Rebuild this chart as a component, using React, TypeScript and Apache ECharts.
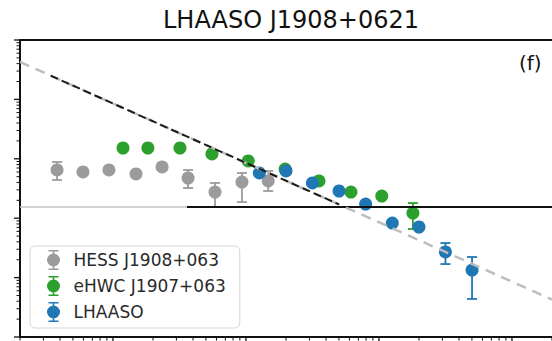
import React, { useEffect, useRef } from "react";
import * as echarts from "echarts";

// Axis ranges: energy (TeV) and E^2 dN/dE
const X_MIN = 0.2;
const X_MAX = 2000;
const Y_MIN = 1e-14;
const Y_MAX = 1e-9;

// H.E.S.S. spectral points
const hessE = [0.38, 0.595, 0.933, 1.49, 2.34, 3.67, 5.85, 9.33, 14.7];
const hessF = [6.48e-12, 6.0e-12, 6.48e-12, 5.55e-12, 7.28e-12, 4.75e-12, 2.76e-12, 4.06e-12, 4.23e-12];
const hessLo = [4.4e-12, 5.7e-12, 6.15e-12, 5.27e-12, 6.92e-12, 3.22e-12, 1.55e-12, 1.87e-12, 2.87e-12];
const hessHi = [8.83e-12, 6.3e-12, 6.8e-12, 5.83e-12, 7.64e-12, 6.48e-12, 3.92e-12, 5.77e-12, 6.24e-12];

// eHWC spectral points
const hawcE = [1.19, 1.83, 3.19, 5.55, 10.4, 19.7, 35.4, 61.6, 105, 180];
const hawcF = [1.52e-11, 1.52e-11, 1.52e-11, 1.21e-11, 9.19e-12, 6.73e-12, 4.23e-12, 2.76e-12, 2.36e-12, 1.22e-12];
const hawcLo = [1.4e-11, 1.4e-11, 1.4e-11, 1.11e-11, 8.4e-12, 6.1e-12, 3.85e-12, 2.5e-12, 2.1e-12, 6.58e-13];
const hawcHi = [1.64e-11, 1.64e-11, 1.64e-11, 1.31e-11, 1.0e-11, 7.4e-12, 4.65e-12, 3.05e-12, 2.65e-12, 1.8e-12];

// LHAASO spectral points
const lhaasoE = [12.6, 20.0, 31.6, 50.1, 79.4, 126, 200, 316, 501];
const lhaasoF = [5.77e-12, 6.24e-12, 3.92e-12, 2.87e-12, 1.73e-12, 8.3e-13, 7.11e-13, 2.7e-13, 1.34e-13];
const lhaasoLo = [5.45e-12, 5.9e-12, 3.7e-12, 2.7e-12, 1.62e-12, 7.8e-13, 6.4e-13, 1.69e-13, 4.37e-14];
const lhaasoHi = [6.1e-12, 6.6e-12, 4.15e-12, 3.05e-12, 1.85e-12, 8.8e-13, 7.9e-13, 3.82e-13, 2.22e-13];

// Power-law model (full range, grey) and its fitted segment (black)
const fitE = [0.2, 2000];
const fitF = [4.27e-10, 4.27e-14];
const fitSegE = [0.34, 50];
const fitSegF = [2.51e-10, 1.71e-12];

// Horizontal reference level
const refE = [0.2, 2000];
const refSegE = [3.6, 2000];
const refF = 1.55e-12;

const FONT = "DejaVu Sans";
const GRAY = "#9b9b9b";
const GREEN = "#2ca02c";
const BLUE = "#1f77b4";

// Legend glyph: marker with an error bar
const ERR_ICON =
  "path://M2 0H12V1.6H2Z M6.2 0H7.8V20H6.2Z M2 18.4H12V20H2Z M13.5 10A6.5 6.5 0 1 1 0.5 10A6.5 6.5 0 1 1 13.5 10Z";

function logTicks(min: number, max: number) {
  const out: number[][] = [];
  for (let k = -15; k <= 4; k++) {
    for (let m = 1; m <= 9; m++) {
      const v = m * Math.pow(10, k);
      if (v >= min * 0.999 && v <= max * 1.001) out.push([v, m === 1 ? 1 : 0]);
    }
  }
  return out;
}

function errorBars(name: string, color: string, xs: number[], lo: number[], hi: number[]) {
  return {
    type: "custom",
    name,
    silent: true,
    clip: false,
    itemStyle: { color },
    encode: { x: 0, y: [1, 2] },
    data: xs.map((e, i) => [e, lo[i], hi[i]]),
    renderItem: (_p: any, api: any) => {
      const x = api.value(0);
      const top = api.coord([x, api.value(2)]);
      const bot = api.coord([x, api.value(1)]);
      const hw = 5;
      const style = { stroke: color, lineWidth: 1.8, fill: "none" };
      return {
        type: "group",
        children: [
          { type: "line", shape: { x1: top[0], y1: top[1], x2: bot[0], y2: bot[1] }, style },
          { type: "line", shape: { x1: top[0] - hw, y1: top[1], x2: top[0] + hw, y2: top[1] }, style },
          { type: "line", shape: { x1: bot[0] - hw, y1: bot[1], x2: bot[0] + hw, y2: bot[1] }, style },
        ],
      };
    },
  };
}

function markers(name: string, color: string, xs: number[], ys: number[]) {
  return {
    type: "scatter",
    name,
    symbol: "circle",
    symbolSize: 13,
    itemStyle: { color, opacity: 1 },
    emphasis: { disabled: true },
    data: xs.map((e, i) => [e, ys[i]]),
  };
}

function straight(xs: number[], ys: number[], color: string, width: number, dash: any) {
  return {
    type: "line",
    silent: true,
    symbol: "none",
    lineStyle: { color, width, type: dash },
    emphasis: { disabled: true },
    data: xs.map((e, i) => [e, ys[i]]),
  };
}

export default function App() {
  const ref = useRef<HTMLDivElement>(null);

  useEffect(() => {
    document.body.style.margin = "0";
    const chart = echarts.init(ref.current!, null, { renderer: "svg" });

    const xTicks = logTicks(X_MIN, X_MAX).map(([v, major]) => [v, Y_MIN, major]);
    const yTicks = logTicks(Y_MIN, Y_MAX).map(([v, major]) => [X_MIN, v, major]);

    chart.setOption({
      animation: false,
      title: [
        {
          text: "LHAASO J1908+0621",
          left: 291,
          top: 8,
          padding: 0,
          textAlign: "center",
          textStyle: { fontFamily: FONT, fontSize: 24, fontWeight: "normal", color: "#111" },
        },
        {
          text: "(f)",
          left: 519,
          top: 53,
          padding: 0,
          textStyle: { fontFamily: FONT, fontSize: 20, fontWeight: "normal", color: "#111" },
        },
      ],
      grid: { left: 20, top: 40, right: 0, bottom: 4 },
      legend: {
        orient: "vertical",
        left: 30,
        top: 246,
        padding: [4, 14, 6, 17],
        itemWidth: 30,
        itemHeight: 20,
        itemGap: 6,
        backgroundColor: "rgba(255,255,255,0.85)",
        borderColor: "#d6d6d6",
        borderWidth: 1,
        borderRadius: 5,
        textStyle: { fontFamily: FONT, fontSize: 17, color: "#2a2a2a" },
        data: [
          { name: "HESS J1908+063", icon: ERR_ICON },
          { name: "eHWC J1907+063", icon: ERR_ICON },
          { name: "LHAASO", icon: ERR_ICON },
        ],
      },
      xAxis: [
        {
          type: "log",
          logBase: 10,
          min: X_MIN,
          max: X_MAX,
          position: "bottom",
          axisLine: { show: true, lineStyle: { color: "#111", width: 2 } },
          axisTick: { show: false },
          axisLabel: { show: false },
          splitLine: { show: false },
        },
        {
          type: "log",
          logBase: 10,
          min: X_MIN,
          max: X_MAX,
          position: "top",
          axisLine: { show: true, lineStyle: { color: "#111", width: 2 } },
          axisTick: { show: false },
          axisLabel: { show: false },
          splitLine: { show: false },
        },
      ],
      yAxis: {
        type: "log",
        logBase: 10,
        min: Y_MIN,
        max: Y_MAX,
        axisLine: { show: true, lineStyle: { color: "#111", width: 2 } },
        axisTick: { show: false },
        axisLabel: { show: false },
        splitLine: { show: false },
      },
      series: [
        straight(refE, [refF, refF], "#c4c4c4", 1.5, "solid"),
        straight(refSegE, [refF, refF], "#111", 2, "solid"),
        straight(fitE, fitF, "#bdbdbd", 2.5, [10, 7]),
        straight(fitSegE, fitSegF, "#1a1a1a", 2, [8, 4]),
        errorBars("HESS J1908+063", GRAY, hessE, hessLo, hessHi),
        markers("HESS J1908+063", GRAY, hessE, hessF),
        errorBars("eHWC J1907+063", GREEN, hawcE, hawcLo, hawcHi),
        markers("eHWC J1907+063", GREEN, hawcE, hawcF),
        errorBars("LHAASO", BLUE, lhaasoE, lhaasoLo, lhaasoHi),
        markers("LHAASO", BLUE, lhaasoE, lhaasoF),
        {
          type: "custom",
          silent: true,
          clip: false,
          encode: { x: 0, y: 1 },
          data: xTicks,
          renderItem: (_p: any, api: any) => {
            const p = api.coord([api.value(0), api.value(1)]);
            const len = api.value(2) ? 6 : 3.5;
            return {
              type: "line",
              shape: { x1: p[0], y1: p[1], x2: p[0], y2: p[1] + len },
              style: { stroke: "#111", lineWidth: api.value(2) ? 1.3 : 1 },
            };
          },
        },
        {
          type: "custom",
          silent: true,
          clip: false,
          encode: { x: 0, y: 1 },
          data: yTicks,
          renderItem: (_p: any, api: any) => {
            const p = api.coord([api.value(0), api.value(1)]);
            const len = api.value(2) ? 6 : 3.5;
            return {
              type: "line",
              shape: { x1: p[0], y1: p[1], x2: p[0] - len, y2: p[1] },
              style: { stroke: "#111", lineWidth: api.value(2) ? 1.3 : 1 },
            };
          },
        },
      ],
    });

    return () => chart.dispose();
  }, []);

  return <div ref={ref} style={{ width: 552, height: 341 }} />;
}
